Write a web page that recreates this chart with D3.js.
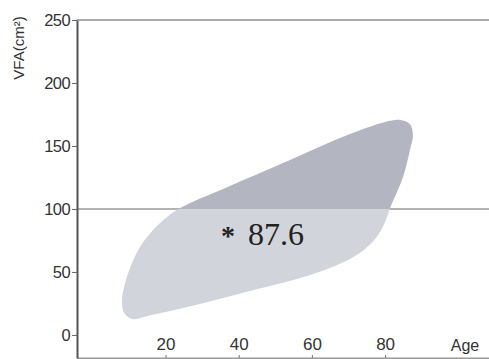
<!DOCTYPE html>
<html>
<head>
<meta charset="utf-8">
<script src="https://cdn.jsdelivr.net/npm/d3@7"></script>
<style>
  html, body { margin: 0; padding: 0; background: #fff; }
  svg { display: block; }
</style>
</head>
<body>
<svg id="chart" width="489" height="359"></svg>
<script>
// Outline of the VFA-by-age distribution region (age in years, VFA in cm²)
const outlineAge = [24.5, 20.4, 16.6, 13.0, 9.8, 8.1, 8.7, 10.9, 15.8, 29.4, 43.1, 56.8, 66.3, 73.1, 77.5, 80.0, 81.7, 84.9, 86.8, 87.6, 86.8, 84.1, 80.0, 70.4, 52.1, 37.6];
const outlineVFA = [101.6, 93.7, 83.3, 69.9, 49.2, 27.8, 17.5, 12.7, 15.6, 24.6, 34.9, 45.2, 54.8, 65.1, 77.0, 89.7, 103.2, 125.4, 146.8, 158.8, 167.5, 170.7, 169.1, 159.5, 136.5, 118.3];

// Axis ticks and reference values
const ageTicks = [20, 40, 60, 80];
const vfaTicks = [0, 50, 100, 150, 200, 250];
const vfaThreshold = 100;
const meanLabel = "87.6";

const svg = d3.select("#chart");
const W = 489, H = 359;

const x = d3.scaleLinear().domain([-4.2, 108.4]).range([77, 489]);
const y = d3.scaleLinear().domain([-18.3, 250]).range([358, 20]);

const pts = outlineAge.map((a, i) => [a, outlineVFA[i]]);
const blob = d3.line()
  .x(d => x(d[0]))
  .y(d => y(d[1]))
  .curve(d3.curveCatmullRomClosed.alpha(0.5));

// Clip regions above and below the threshold
const defs = svg.append("defs");
defs.append("clipPath").attr("id", "above")
  .append("rect").attr("x", 0).attr("y", 0).attr("width", W).attr("height", y(vfaThreshold));
defs.append("clipPath").attr("id", "below")
  .append("rect").attr("x", 0).attr("y", y(vfaThreshold)).attr("width", W).attr("height", H - y(vfaThreshold));

// Top frame line
svg.append("line")
  .attr("x1", x(-4.2)).attr("x2", W)
  .attr("y1", y(250)).attr("y2", y(250))
  .attr("stroke", "#ababab").attr("stroke-width", 2);

// Threshold line
svg.append("line")
  .attr("x1", x(-4.2)).attr("x2", W)
  .attr("y1", y(vfaThreshold)).attr("y2", y(vfaThreshold))
  .attr("stroke", "#9a9a9a").attr("stroke-width", 1.5);

// Region, split into two tones at the threshold
svg.append("path").attr("d", blob(pts))
  .attr("fill", "#d2d4db").attr("clip-path", "url(#below)");
svg.append("path").attr("d", blob(pts))
  .attr("fill", "#b3b5c0").attr("clip-path", "url(#above)");

// Bottom axis (labels sit above the line)
const xAxis = svg.append("g")
  .attr("transform", `translate(0,${y(-18.3)})`)
  .call(d3.axisTop(x).tickValues(ageTicks).tickSize(3).tickPadding(5).tickSizeOuter(0));
xAxis.select(".domain").attr("stroke", "#9a9a9a").attr("stroke-width", 2);
xAxis.selectAll(".tick line").attr("stroke", "#777");
xAxis.selectAll("text")
  .attr("font-family", "'Liberation Sans', Arial, sans-serif")
  .attr("font-size", 17).attr("fill", "#333");

// Left axis
const yAxis = svg.append("g")
  .attr("transform", `translate(${x(-4.2)},0)`)
  .call(d3.axisLeft(y).tickValues(vfaTicks).tickSize(5).tickPadding(2).tickSizeOuter(0));
yAxis.select(".domain").attr("stroke", "#555").attr("stroke-width", 2);
yAxis.selectAll(".tick line").attr("stroke", "#666");
yAxis.selectAll("text")
  .attr("font-family", "'Liberation Sans', Arial, sans-serif")
  .attr("font-size", 16.5).attr("letter-spacing", -0.6).attr("fill", "#333");

// Axis titles
svg.append("text")
  .attr("x", 465).attr("y", 351)
  .attr("text-anchor", "middle")
  .attr("font-family", "'Liberation Sans', Arial, sans-serif")
  .attr("font-size", 16).attr("fill", "#333")
  .text("Age");

svg.append("text")
  .attr("transform", "translate(24,48) rotate(-90)")
  .attr("text-anchor", "middle")
  .attr("font-family", "'Liberation Sans', Arial, sans-serif")
  .attr("font-size", 15).attr("fill", "#333")
  .text("VFA(cm²)");

// Mean annotation
svg.append("text")
  .attr("x", 228).attr("y", 245)
  .attr("text-anchor", "middle")
  .attr("font-family", "'Liberation Serif', 'Times New Roman', serif")
  .attr("font-weight", "bold")
  .attr("font-size", 28).attr("fill", "#222")
  .text("*");
svg.append("text")
  .attr("x", 248).attr("y", 245)
  .attr("font-family", "'Liberation Serif', 'Times New Roman', serif")
  .attr("font-size", 32).attr("fill", "#222")
  .text(meanLabel);
</script>
</body>
</html>
